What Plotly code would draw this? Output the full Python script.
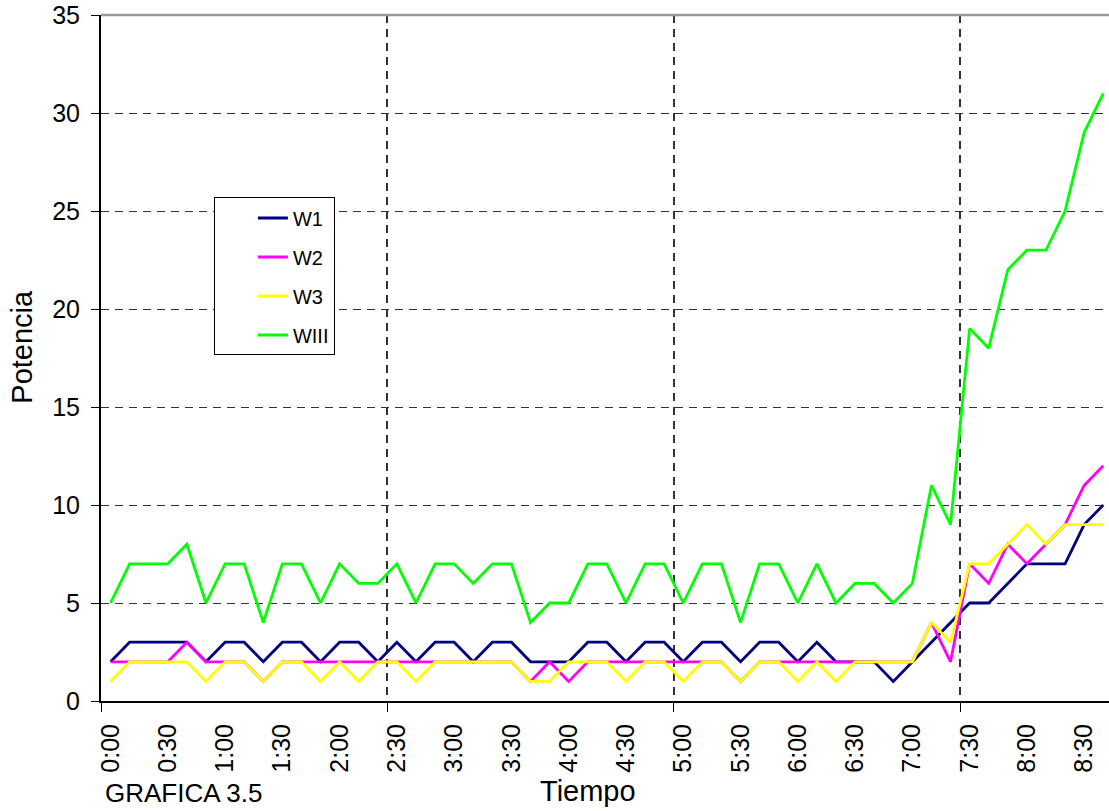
import plotly.graph_objects as go

# Sampling times (every 10 minutes)
times = [
    "0:00", "0:10", "0:20", "0:30", "0:40", "0:50",
    "1:00", "1:10", "1:20", "1:30", "1:40", "1:50",
    "2:00", "2:10", "2:20", "2:30", "2:40", "2:50",
    "3:00", "3:10", "3:20", "3:30", "3:40", "3:50",
    "4:00", "4:10", "4:20", "4:30", "4:40", "4:50",
    "5:00", "5:10", "5:20", "5:30", "5:40", "5:50",
    "6:00", "6:10", "6:20", "6:30", "6:40", "6:50",
    "7:00", "7:10", "7:20", "7:30", "7:40", "7:50",
    "8:00", "8:10", "8:20", "8:30", "8:40",
]

w1 = [2, 3, 3, 3, 3, 2, 3, 3, 2, 3, 3, 2, 3, 3, 2,
      3, 2, 3, 3, 2, 3, 3, 2, 2, 2, 3, 3, 2, 3, 3,
      2, 3, 3, 2, 3, 3, 2, 3, 2, 2, 2, 1, 2, 3, 4,
      5, 5, 6, 7, 7, 7, 9, 10]

w2 = [2, 2, 2, 2, 3, 2, 2, 2, 1, 2, 2, 2, 2, 2, 2,
      2, 2, 2, 2, 2, 2, 2, 1, 2, 1, 2, 2, 2, 2, 2,
      2, 2, 2, 1, 2, 2, 2, 2, 2, 2, 2, 2, 2, 4, 2,
      7, 6, 8, 7, 8, 9, 11, 12]

w3 = [1, 2, 2, 2, 2, 1, 2, 2, 1, 2, 2, 1, 2, 1, 2,
      2, 1, 2, 2, 2, 2, 2, 1, 1, 2, 2, 2, 1, 2, 2,
      1, 2, 2, 1, 2, 2, 1, 2, 1, 2, 2, 2, 2, 4, 3,
      7, 7, 8, 9, 8, 9, 9, 9]

wiii = [5, 7, 7, 7, 8, 5, 7, 7, 4, 7, 7, 5, 7, 6, 6,
        7, 5, 7, 7, 6, 7, 7, 4, 5, 5, 7, 7, 5, 7, 7,
        5, 7, 7, 4, 7, 7, 5, 7, 5, 6, 6, 5, 6, 11, 9,
        19, 18, 22, 23, 23, 25, 29, 31]

series = [
    ("W1", w1, "#000080"),
    ("W2", w2, "#FF00FF"),
    ("W3", w3, "#FFFF00"),
    ("WIII", wiii, "#00FF00"),
]

# Every third time gets a label (half-hour marks)
label_step = 3
x_idx = list(range(len(times)))
tick_pos = x_idx[::label_step]
tick_text = times[::label_step]

FONT = "Liberation Sans, Arial, sans-serif"

fig = go.Figure()
for i, (name, vals, color) in enumerate(series):
    fig.add_trace(go.Scatter(
        x=x_idx, y=vals, name=name, mode="lines",
        line=dict(color=color, width=2.8),
        legendgroup=f"g{i}",
    ))

fig.update_layout(
    width=1109, height=811,
    margin=dict(l=101, r=0, t=15, b=110),
    paper_bgcolor="white", plot_bgcolor="white",
    font=dict(family=FONT, color="black"),
    showlegend=True,
    legend=dict(
        x=0.112, y=0.734, xanchor="left", yanchor="top",
        bgcolor="white", bordercolor="black", borderwidth=1,
        font=dict(size=20, family=FONT, color="black"),
        tracegroupgap=10, indentation=38,
        entrywidth=66, entrywidthmode="pixels",
    ),
    xaxis=dict(
        range=[-0.5, 52.3],
        tickmode="array", tickvals=tick_pos, ticktext=tick_text,
        tickangle=-90, tickfont=dict(size=25),
        ticks="", showgrid=False, zeroline=False,
        showline=True, linecolor="black", linewidth=2,
        ticklabelstandoff=11,
        minor=dict(
            tickmode="linear", tick0=-0.5, dtick=15,
            ticks="outside", ticklen=9, tickcolor="black", tickwidth=1,
            showgrid=True, gridcolor="#333333", gridwidth=1.5,
            griddash="8px,6px",
        ),
    ),
    yaxis=dict(
        range=[0, 35], tickmode="linear", tick0=0, dtick=5,
        tickfont=dict(size=25),
        ticks="outside", ticklen=8, tickcolor="black", tickwidth=1,
        showgrid=True, gridcolor="#333333", gridwidth=1.2,
        griddash="8px,6px", zeroline=False,
        showline=True, linecolor="black", linewidth=2,
        ticklabelstandoff=6,
    ),
    shapes=[
        dict(type="line", xref="paper", yref="paper", x0=0, x1=1, y0=1, y1=1,
             line=dict(color="#999999", width=2.5), layer="above"),
    ],
    annotations=[
        dict(text="Potencia", xref="paper", yref="paper",
             x=-0.078, y=0.517, xanchor="center", yanchor="middle",
             textangle=-90, showarrow=False, font=dict(size=29)),
        dict(text="Tiempo", xref="paper", yref="paper",
             x=0.483, y=-0.105, xanchor="center", yanchor="top",
             showarrow=False, font=dict(size=29)),
        dict(text="GRAFICA 3.5", xref="paper", yref="paper",
             x=0.002, y=-0.109, xanchor="left", yanchor="top",
             showarrow=False, font=dict(size=26)),
    ],
)

fig.write_html("out.html")
